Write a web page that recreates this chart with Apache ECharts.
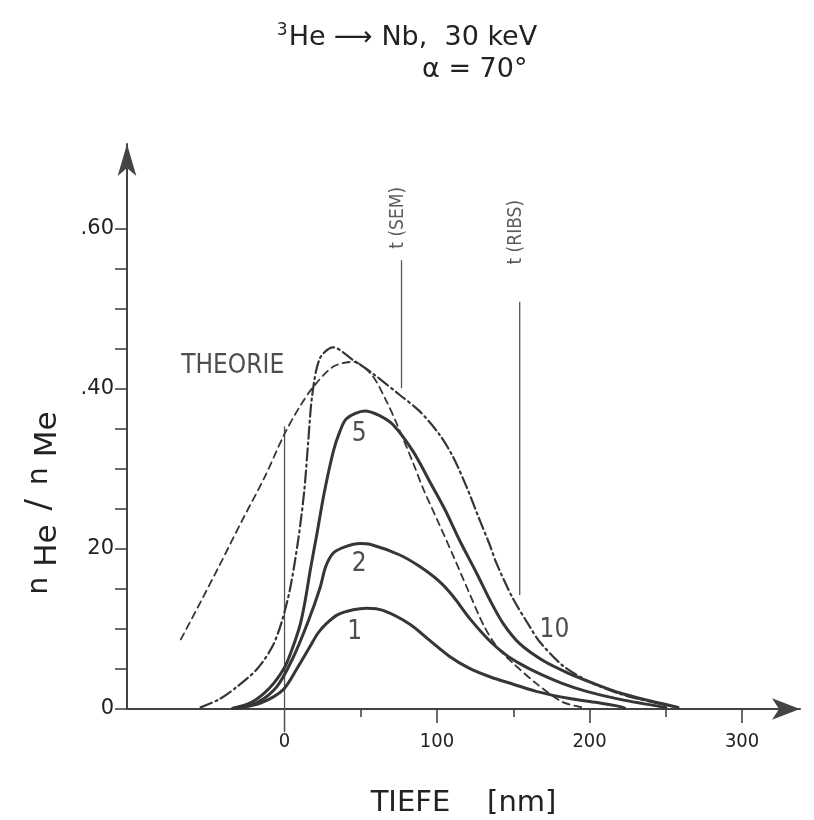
<!DOCTYPE html>
<html><head><meta charset="utf-8">
<script src="https://cdn.jsdelivr.net/npm/echarts@6/dist/echarts.min.js"></script>
<style>html,body{margin:0;padding:0;background:#fff}#c{width:814px;height:820px}</style>
</head><body><div id="c"></div>
<script>
// ---- data (x = depth in nm, y = nHe/nMe) ----
const theorie = [[-68,0.087],[-55,0.134],[-42,0.182],[-28,0.235],[-13,0.29],[0,0.344],[10,0.378],[19,0.403],[32,0.428],[45,0.434],[57,0.418],[66,0.388],[73.5,0.357],[84,0.309],[91,0.275],[100.7,0.234],[110.5,0.192],[120,0.15],[131,0.103],[140,0.076],[150,0.057],[165,0.032],[182,0.009],[195,0.002]];
const curve10 = [[-55,0.002],[-43,0.012],[-31,0.028],[-18,0.05],[-8,0.078],[-2,0.108],[3.6,0.15],[9,0.212],[13,0.274],[15.6,0.336],[18.2,0.393],[23.2,0.4385],[32,0.452],[45,0.436],[56,0.422],[75.6,0.3925],[88.7,0.372],[101.8,0.3425],[110.5,0.315],[119.3,0.278],[128,0.236],[134.6,0.205],[139,0.182],[149.8,0.138],[160.8,0.103],[167.3,0.084],[182.6,0.054],[200,0.034],[220,0.019],[240,0.009],[258,0.002]];
const curve5 = [[-34,0.001],[-22,0.008],[-10,0.026],[0,0.052],[5,0.075],[10.2,0.105],[13.4,0.134],[17,0.175],[21.1,0.2175],[26,0.27],[32,0.322],[36.3,0.347],[40.7,0.363],[52.7,0.3725],[62,0.367],[71.3,0.355],[84.3,0.322],[95,0.285],[105,0.25],[115,0.21],[125.9,0.17],[135,0.135],[143.3,0.107],[154,0.082],[170,0.06],[187,0.044],[200,0.034],[220,0.02],[240,0.01],[258,0.002]];
const curve2 = [[-32,0.001],[-18,0.008],[-5,0.028],[5.8,0.065],[15.6,0.11],[23.2,0.151],[27,0.178],[32,0.195],[40,0.203],[49.4,0.207],[56,0.206],[75.6,0.1925],[88.7,0.178],[101.8,0.159],[110.5,0.141],[121.5,0.113],[134.6,0.085],[145,0.068],[154,0.057],[165,0.046],[182,0.032],[198,0.022],[220,0.012],[250,0.002]];
const curve1 = [[-30,0.001],[-15,0.008],[-1,0.024],[8,0.05],[16.7,0.078],[22,0.095],[27.6,0.107],[35,0.118],[45,0.124],[53.8,0.126],[65,0.123],[82.2,0.106],[95,0.086],[108,0.066],[121,0.051],[135,0.04],[150,0.031],[165,0.022],[187,0.013],[205,0.008],[220,0.003],[223,0.001]];
const zeroLine = [[0,-0.029],[0,0.353]];
const semLine = [[76.7,0.401],[76.7,0.561]];
const ribsLine = [[154.2,0.1425],[154.2,0.509]];
const xTicksMinor = [50,150,250];
const xTicksMajor = [100,200,300];
const xTickZero = [0];
const xLabelValues = [0,100,200,300];
const yTicks = [0,0.05,0.1,0.15,0.2,0.25,0.3,0.35,0.4,0.45,0.5,0.55,0.6];
const yLabelValues = [0,0.2,0.4,0.6];
const yLabelTexts = ['0','20','.40','.60'];
const curveLabels = [['THEORIE',-34,0.428],['5',49,0.343],['2',49,0.181],['1',46,0.096],['10',177,0.098]];
const markerTexts = [['t (SEM)',74.6,0.614],['t (RIBS)',151.7,0.596]];
const titleLine1 = 'He ⟶ Nb,  30 keV';
const titleSup = '3';
const titleLine2 = 'α = 70°';
const xName = 'TIEFE    [nm]';

// ---- chart ----
const FONT = 'DejaVu Sans Condensed, DejaVu Sans, sans-serif';
const FONTW = 'DejaVu Sans, sans-serif';
const INK = '#363636';
const TXT = '#222';
const chart = echarts.init(document.getElementById('c'), null, {renderer:'canvas'});
const X_MIN = -103.3, X_MAX = 338, Y_MAX = 0.70625;
const baseX = {type:'value', min:X_MIN, max:X_MAX, position:'bottom', splitLine:{show:false}, axisLine:{show:false}, axisLabel:{show:false}, axisTick:{show:false}};
function lineSeries(data, type, width){
  return {type:'line', data, symbol:'none', smooth:0.3, clip:false, silent:true,
          lineStyle:{color:INK, width, type, cap:'round', join:'round'}, z:3};
}
function vline(data){
  return {type:'line', data, symbol:'none', clip:false, silent:true, lineStyle:{color:'#555', width:1.3}, z:2};
}
chart.setOption({
  animation:false,
  backgroundColor:'#fff',
  textStyle:{fontFamily:FONT},
  grid:{left:127, right:14, top:144, bottom:111, containLabel:false, outerBoundsMode:'none'},
  xAxis:[
    Object.assign({}, baseX, {
      axisLine:{show:true, lineStyle:{color:'#444', width:2}, symbol:['none','arrow'], symbolSize:[16,28]},
      axisTick:{show:true, customValues:xTicksMinor, length:8, inside:false, lineStyle:{color:'#444', width:1.6}}
    }),
    Object.assign({}, baseX, {
      axisTick:{show:true, customValues:xTicksMajor, length:14, lineStyle:{color:'#444', width:1.6}},
      axisLabel:{show:true, customValues:xLabelValues, margin:23, fontSize:20, color:TXT, fontFamily:FONT},
      name:xName, nameLocation:'middle', nameGap:80, nameTextStyle:{fontSize:29, color:TXT, fontFamily:FONTW}
    }),
    Object.assign({}, baseX, {
      axisTick:{show:true, customValues:xTickZero, length:22, lineStyle:{color:'#555', width:1.3}}
    })
  ],
  yAxis:{type:'value', min:0, max:Y_MAX, position:'left', splitLine:{show:false},
    axisLine:{show:true, onZero:false, lineStyle:{color:'#444', width:2}, symbol:['none','arrow'], symbolSize:[14,32]},
    axisTick:{show:true, customValues:yTicks, length:12, lineStyle:{color:'#444', width:1.6}},
    axisLabel:{show:true, customValues:yLabelValues, margin:13, fontSize:21, color:TXT, fontFamily:FONTW,
      formatter:(v)=>{const i=yLabelValues.findIndex(a=>Math.abs(a-v)<1e-9); return i<0?'':yLabelTexts[i];}}
  },
  series:[
    lineSeries(theorie,[7,5],1.8),
    lineSeries(curve10,[12,4,2,4],2.2),
    lineSeries(curve5,'solid',3),
    lineSeries(curve2,'solid',3),
    lineSeries(curve1,'solid',3),
    vline(zeroLine), vline(semLine), vline(ribsLine),
    {type:'scatter', symbolSize:0, silent:true, clip:false,
      data:curveLabels.map(d=>({name:d[0], value:[d[1],d[2]]})),
      label:{show:true, position:'inside', formatter:p=>p.name, fontSize:26, color:TXT, fontFamily:FONT}, z:5},
    {type:'scatter', symbolSize:0, silent:true, clip:false,
      data:markerTexts.map(d=>({name:d[0], value:[d[1],d[2]]})),
      label:{show:true, position:'inside', rotate:90, formatter:p=>p.name, fontSize:19, color:'#333', fontFamily:FONT}, z:5}
  ],
  graphic:[
    {type:'text', x:407, y:38, style:{text:'{s|'+titleSup+'}{m|'+titleLine1+'}', align:'center', verticalAlign:'middle',
      rich:{s:{fontSize:17, fontFamily:FONTW, fill:TXT, padding:[0,1,14,0]}, m:{fontSize:27, fontFamily:FONTW, fill:TXT}}}},
    {type:'text', x:422, y:70, style:{text:titleLine2, align:'left', verticalAlign:'middle', fontSize:27, fontFamily:FONTW, fill:TXT}},
    {type:'text', x:40, y:503, rotation:Math.PI/2, style:{text:'{n|n}{s|He}{sl|/}{n|n}{s|Me}', align:'center', verticalAlign:'middle',
      rich:{n:{fontSize:28, fontFamily:FONTW, fill:TXT, padding:[0,6,0,4]},
            s:{fontSize:31, fontFamily:FONTW, fill:TXT, padding:[16,4,0,4]},
            sl:{fontSize:34, fontFamily:FONTW, fill:TXT, padding:[0,10,0,10]}}}}
  ]
});
</script></body></html>
